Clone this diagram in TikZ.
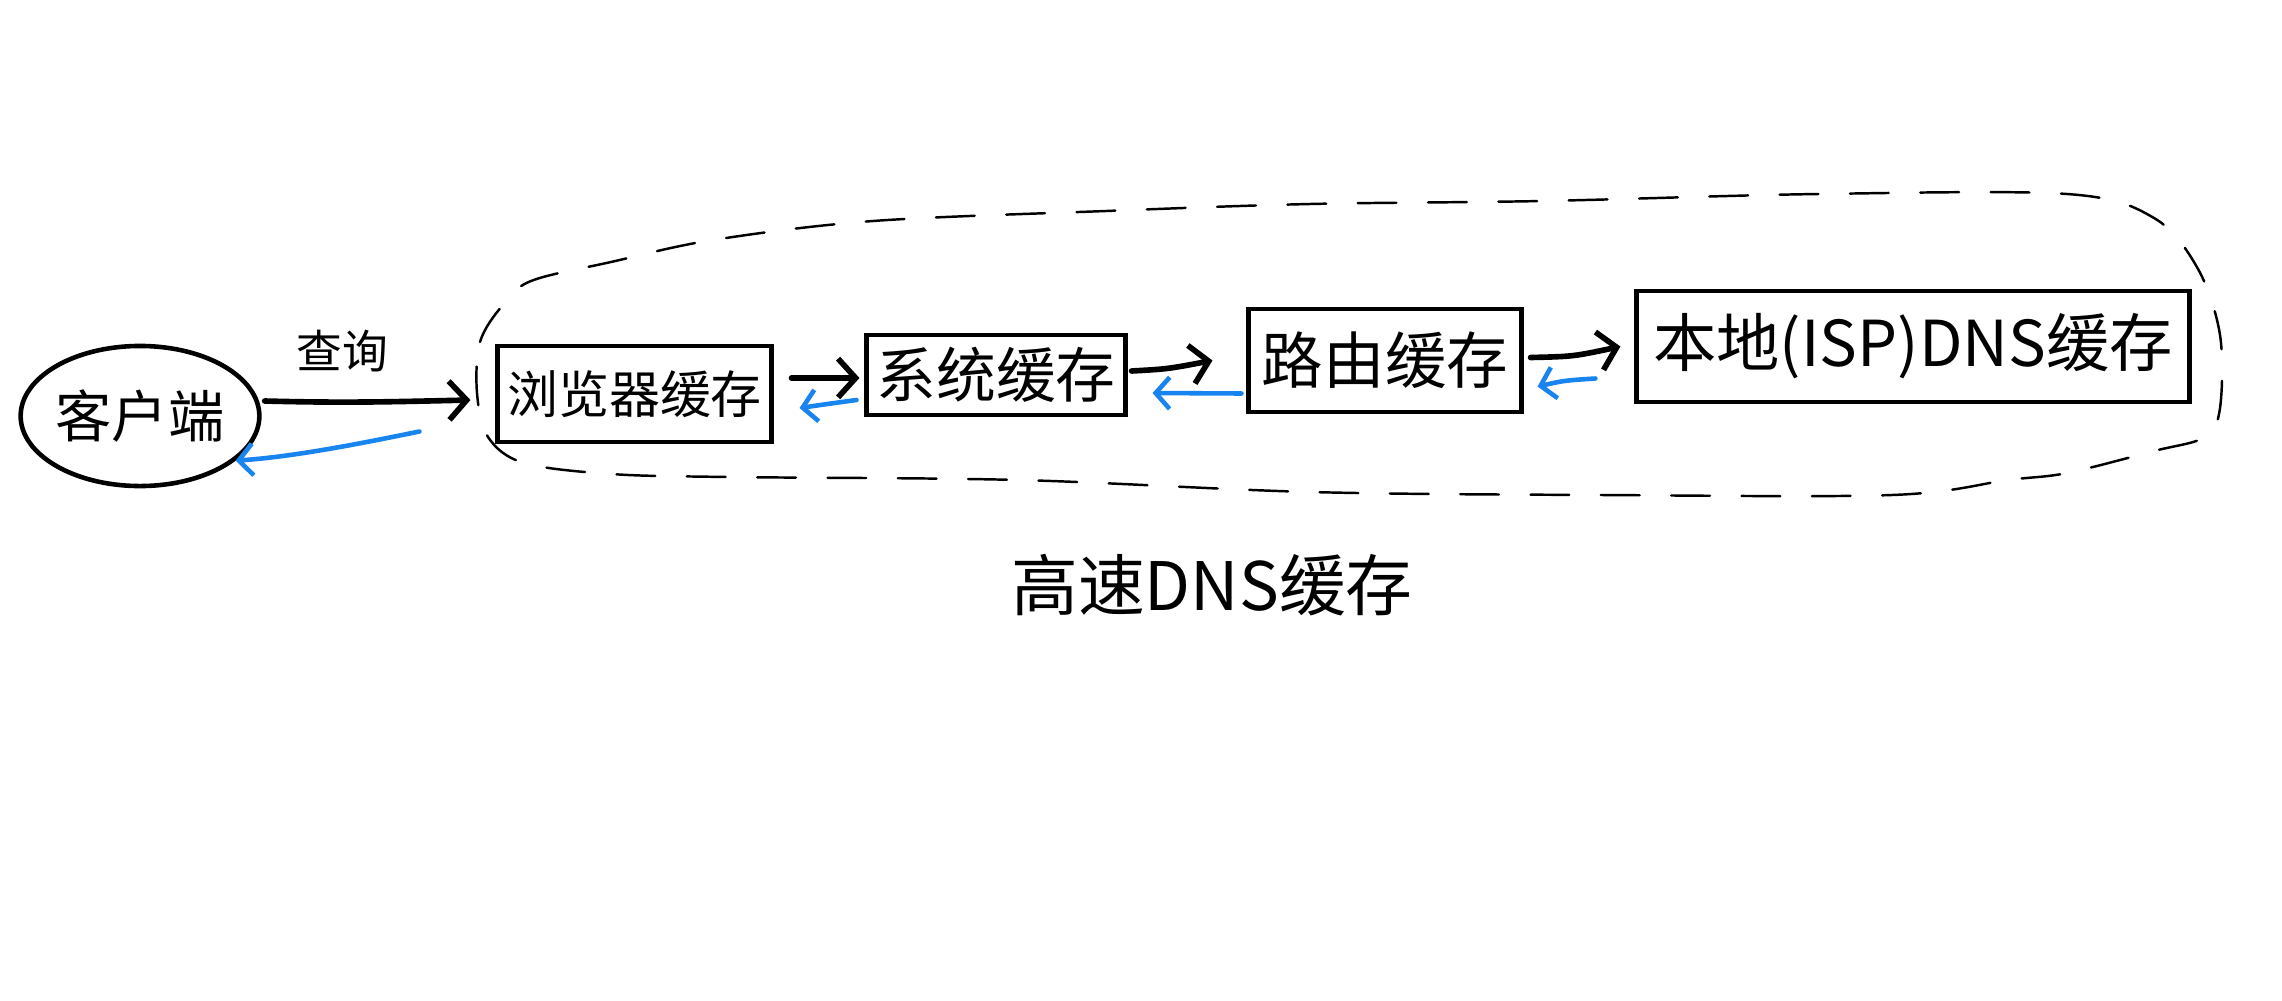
\documentclass[tikz,border=0pt]{standalone}
\usepackage{fontspec}
\newfontfamily\cjk{Noto Sans CJK SC}
\usetikzlibrary{shapes.geometric,arrows.meta,calc}
\definecolor{penblue}{RGB}{24,132,240}
\tikzset{
  cachebox/.style={draw=black,line width=1.4pt,inner sep=0pt,font=\cjk},
  fwd/.style={draw=black,line width=1.6pt,line cap=round,-{Straight Barb[length=5pt,width=11pt]}},
  back/.style={draw=penblue,line width=1.3pt,line cap=round,-{Straight Barb[length=4pt,width=9pt]}},
  hull/.style={draw=black,line width=0.7pt,dash pattern=on 11pt off 9pt,line cap=round}
}
\begin{document}
\begin{tikzpicture}[x=0.01cm,y=-0.01cm]
\useasboundingbox[fill=white] (0,0) rectangle (2282,1000);

% dashed hull
\draw[hull] plot[smooth cycle,tension=0.55] coordinates {
 (477,393) (480,342) (502,306) (531,281) (611,262) (713,240) (873,221)
 (1106,211) (1310,204) (1543,201) (1819,194) (2067,194) (2154,218)
 (2198,269) (2220,335) (2220,408) (2205,437) (2154,451) (2067,473)
 (2008,480) (1892,495) (1601,495) (1310,492) (1019,480) (728,477)
 (611,474) (524,463) (488,437)};

% nodes
\node[ellipse,draw=black,line width=1.3pt,minimum width=2.38cm,minimum height=1.40cm,inner sep=0pt,font=\cjk\fontsize{16}{18}\selectfont] (client) at (140,416) {客户端};
\node[cachebox,minimum width=2.73cm,minimum height=0.96cm,font=\cjk\fontsize{14.5}{16}\selectfont] (browser) at (634.5,394) {浏览器缓存};
\node[cachebox,minimum width=2.58cm,minimum height=0.80cm,font=\cjk\fontsize{17}{19}\selectfont] (system) at (996,375) {系统缓存};
\node[cachebox,minimum width=2.72cm,minimum height=1.03cm,font=\cjk\fontsize{17.5}{19}\selectfont] (router) at (1385,360.5) {路由缓存};
\node[cachebox,minimum width=5.52cm,minimum height=1.11cm,font=\cjk\fontsize{18}{20}\selectfont] (local) at (1913,346.5) {本地(ISP)DNS缓存};

\node[font=\cjk\fontsize{13}{15}\selectfont] (query) at (342,351) {查询};
\node[font=\cjk\fontsize{19}{21}\selectfont] (title) at (1212,585) {高速DNS缓存};

% forward arrows
\draw[fwd] ($(client.east)+(3,-15)$) .. controls ($(client.east)+(80,-13)$) and ($(browser.west)+(-110,8)$) .. ($(browser.west)+(-25,6)$);
\draw[fwd] ($(browser.east)+(18,-16)$) -- ($(system.west)+(-5,3)$);
\draw[fwd] ($(system.east)+(4,-4)$) .. controls ($(system.east)+(40,-6)$) .. ($(router.west)+(-34,0)$);
\draw[fwd] ($(router.east)+(7,-3)$) .. controls ($(router.east)+(50,-4)$) .. ($(local.west)+(-14,0)$);

% return arrows
\draw[back] ($(browser.south west)+(-76,-13)$) .. controls ($(browser.south west)+(-130,-2)$) and ($(client.-25)+(60,-4)$) .. (client.-25);
\draw[back] ($(system.west)+(-8,25)$) .. controls ($(system.west)+(-30,28)$) .. ($(browser.east)+(26,14)$);
\draw[back] ($(router.west)+(-5,33)$) -- ($(system.east)+(25,18)$);
\draw[back] ($(local.west)+(-39,32)$) .. controls ($(local.west)+(-70,34)$) .. ($(router.east)+(14,26)$);
\end{tikzpicture}
\end{document}
